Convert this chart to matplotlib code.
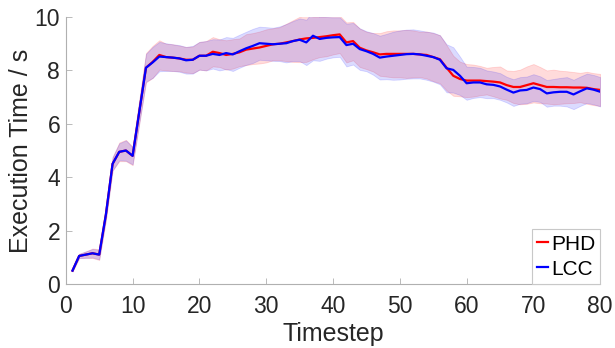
import numpy as np
import matplotlib.pyplot as plt

plt.rcParams['font.family'] = ['Liberation Sans', 'DejaVu Sans']

# Mean execution time per timestep and its spread for both filters
timestep = np.arange(1, 81)

phd_mean = [0.50, 1.05, 1.10, 1.15, 1.10, 2.60, 4.50, 4.95, 5.00, 4.80,
            6.45, 8.10, 8.32, 8.58, 8.50, 8.48, 8.45, 8.40, 8.40, 8.55,
            8.55, 8.70, 8.65, 8.58, 8.62, 8.68, 8.78, 8.82, 8.86, 8.92,
            8.98, 9.00, 9.05, 9.10, 9.16, 9.20, 9.22, 9.25, 9.28, 9.32,
            9.35, 9.05, 9.10, 8.85, 8.75, 8.68, 8.60, 8.62, 8.62, 8.62,
            8.62, 8.62, 8.60, 8.58, 8.50, 8.42, 8.10, 7.80, 7.68, 7.62,
            7.62, 7.62, 7.60, 7.58, 7.55, 7.45, 7.38, 7.38, 7.45, 7.52,
            7.45, 7.38, 7.38, 7.37, 7.37, 7.36, 7.36, 7.35, 7.30, 7.27]

lcc_mean = [0.50, 1.05, 1.10, 1.15, 1.10, 2.60, 4.50, 4.95, 5.00, 4.80,
            6.45, 8.10, 8.30, 8.52, 8.50, 8.48, 8.45, 8.38, 8.40, 8.55,
            8.55, 8.62, 8.58, 8.65, 8.60, 8.72, 8.83, 8.92, 9.02, 9.00,
            8.98, 9.00, 9.02, 9.10, 9.15, 9.05, 9.30, 9.18, 9.22, 9.24,
            9.25, 8.95, 9.00, 8.80, 8.72, 8.62, 8.48, 8.52, 8.55, 8.58,
            8.61, 8.62, 8.60, 8.55, 8.50, 8.40, 8.08, 8.02, 7.80, 7.52,
            7.55, 7.55, 7.48, 7.46, 7.40, 7.28, 7.17, 7.25, 7.27, 7.36,
            7.30, 7.14, 7.18, 7.20, 7.20, 7.10, 7.22, 7.33, 7.28, 7.20]

phd_std = [0.03, 0.08, 0.12, 0.18, 0.20, 0.20, 0.25, 0.35, 0.40, 0.35,
           0.45, 0.55, 0.60, 0.55, 0.50, 0.50, 0.48, 0.48, 0.50, 0.52,
           0.55, 0.55, 0.52, 0.55, 0.55, 0.52, 0.58, 0.58, 0.60, 0.62,
           0.60, 0.62, 0.70, 0.78, 0.85, 0.88, 0.80, 0.75, 0.75, 0.72,
           0.70, 0.75, 0.72, 0.72, 0.70, 0.72, 0.80, 0.85, 0.88, 0.88,
           0.90, 0.88, 0.85, 0.88, 0.90, 0.90, 0.85, 0.75, 0.65, 0.62,
           0.60, 0.55, 0.50, 0.55, 0.60, 0.55, 0.60, 0.65, 0.70, 0.72,
           0.68, 0.62, 0.65, 0.62, 0.60, 0.58, 0.55, 0.60, 0.60, 0.60]

lcc_std = [0.03, 0.08, 0.12, 0.16, 0.18, 0.20, 0.25, 0.32, 0.38, 0.32,
           0.42, 0.52, 0.58, 0.55, 0.52, 0.50, 0.50, 0.50, 0.52, 0.52,
           0.55, 0.55, 0.58, 0.60, 0.62, 0.62, 0.62, 0.64, 0.62, 0.62,
           0.62, 0.65, 0.72, 0.75, 0.80, 0.85, 0.92, 0.82, 0.78, 0.75,
           0.74, 0.80, 0.78, 0.78, 0.75, 0.78, 0.82, 0.85, 0.90, 0.92,
           0.92, 0.92, 0.90, 0.90, 0.92, 0.92, 0.90, 0.85, 0.72, 0.62,
           0.58, 0.55, 0.52, 0.50, 0.50, 0.48, 0.50, 0.50, 0.50, 0.50,
           0.48, 0.50, 0.50, 0.52, 0.55, 0.55, 0.55, 0.55, 0.55, 0.55]

series = [
    ('PHD', phd_mean, phd_std, '#ff0000'),
    ('LCC', lcc_mean, lcc_std, '#0000ff'),
]

fig = plt.figure(figsize=(6.15, 3.48), dpi=100)
ax = fig.add_axes([0.107, 0.184, 0.869, 0.767])

# shaded band = mean +/- std, drawn first so the lines sit on top
for name, mean, std, col in series:
    m = np.array(mean)
    s = np.array(std)
    ax.fill_between(timestep, m - s, m + s, facecolor=col, alpha=0.14,
                    edgecolor=col, linewidth=0.6)

for name, mean, std, col in series:
    ax.plot(timestep, mean, color=col, linewidth=1.6, label=name)

ax.set_xlim(0, 80)
ax.set_ylim(0, 10)
ax.set_xticks(np.arange(0, 81, 10))
ax.set_yticks(np.arange(0, 11, 2))

for side in ['top', 'right']:
    ax.spines[side].set_visible(False)
for side in ['left', 'bottom']:
    ax.spines[side].set_color('#b0b0b0')
    ax.spines[side].set_linewidth(0.8)

ax.tick_params(direction='in', length=4, width=0.6, color='#b0b0b0',
               labelsize=16.5, labelcolor='#262626')
ax.tick_params(axis='x', pad=8)
ax.tick_params(axis='y', pad=4)
ax.set_xlabel('Timestep', fontsize=18, color='#262626', labelpad=3)
ax.set_ylabel('Execution Time / s', fontsize=18, color='#262626', labelpad=1)

leg = ax.legend(loc='lower right', fontsize=15, handlelength=0.5,
                handletextpad=0.15, borderaxespad=0, borderpad=0.25,
                labelspacing=0.3, fancybox=False, framealpha=1)
leg.get_frame().set_edgecolor('#c8c8c8')
leg.get_frame().set_linewidth(0.8)

fig.savefig('out.png', dpi=100)
